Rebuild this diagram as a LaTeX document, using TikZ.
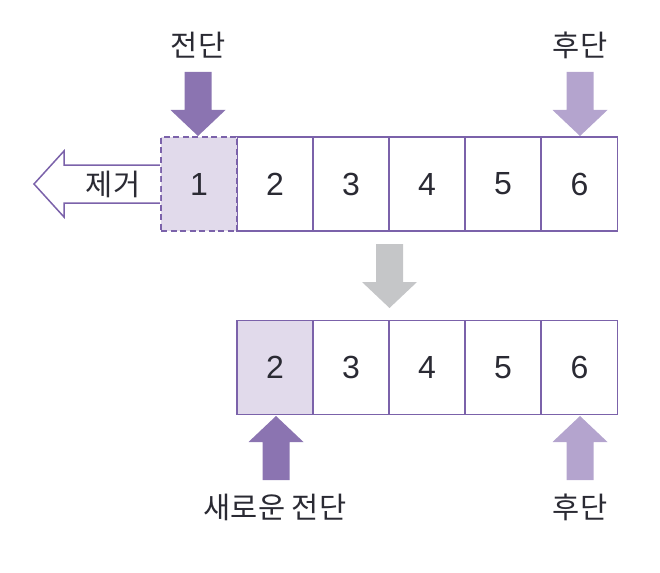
\documentclass[tikz,border=0pt]{standalone}
\usepackage{fontspec}
\setmainfont{Noto Sans CJK KR}
\newfontfamily\digitfont{Liberation Sans}
\usetikzlibrary{calc}
\definecolor{boxline}{HTML}{7B62AA}
\definecolor{darkarrow}{HTML}{8B74B1}
\definecolor{lightarrow}{HTML}{B4A4CE}
\definecolor{cellfill}{HTML}{E1DAEB}
\definecolor{grayarrow}{HTML}{C5C6C8}
\definecolor{txt}{HTML}{2A2A33}
% block arrow: color, center x, tip y, head base y, tail y
\newcommand{\blkarrow}[5]{%
  \fill[#1] (#2-13.5,#5) -- (#2-13.5,#4) -- (#2-27.5,#4) -- (#2,#3) -- (#2+27.5,#4) -- (#2+13.5,#4) -- (#2+13.5,#5) -- cycle;}
\begin{document}
\begin{tikzpicture}[x=1pt,y=-1pt,
  cell/.style={draw=boxline, line width=1.6pt, minimum width=76pt, minimum height=94pt, inner sep=0pt, text=txt, font=\digitfont\fontsize{32}{36}\selectfont},
  lbl/.style={text=txt, inner sep=0pt, font=\fontsize{29.5}{34}\selectfont}]
\useasboundingbox (0,0) rectangle (660,572);
% top row
\foreach \i/\x in {2/275,3/351,4/427,5/503,6/579.5}
  \node[cell] (t\i) at (\x,184) {\i};
\fill[white] (161,137) rectangle (237,231);
\node[cell, fill=cellfill, dash pattern=on 6pt off 3.5pt] (t1) at (199,184) {1};
% bottom row
\foreach \i/\x in {2/275,3/351,4/427,5/503,6/579.5}
  \node[cell] (b\i) at (\x,367.5) {\i};
\node[cell, fill=cellfill] at (b2) {2};
% removal arrow
\draw[boxline, line width=1.5pt, fill=white, line join=miter]
  (160,165) -- (64,165) -- (64,151) -- (34,184) -- (64,217) -- (64,203) -- (160,203);
\node[lbl] (rm) at (113,184) {제거};
% top arrows and labels
\blkarrow{darkarrow}{198}{136}{110}{72}
\blkarrow{lightarrow}{580}{136}{110}{72}
\node[lbl] (front) at (198,45) {전단};
\node[lbl] (rear) at (580,45) {후단};
% gray transition arrow
\blkarrow{grayarrow}{389.5}{308}{282}{244}
% bottom arrows and labels
\blkarrow{darkarrow}{276}{416}{442}{480}
\blkarrow{lightarrow}{580}{416}{442}{480}
\node[lbl] (nfront) at (275,507) {새로운 전단};
\node[lbl] (nrear) at (580,507) {후단};
\end{tikzpicture}
\end{document}
